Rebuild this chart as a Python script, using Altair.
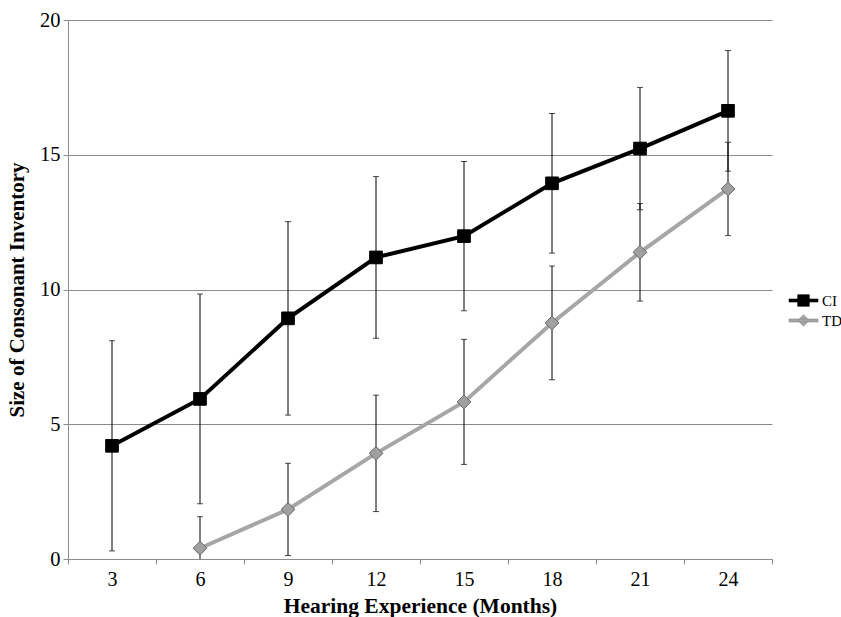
import altair as alt
import pandas as pd

months = [3, 6, 9, 12, 15, 18, 21, 24]
ci_mean = [4.20, 5.94, 8.93, 11.19, 11.98, 13.94, 15.23, 16.63]
ci_sd = [3.90, 3.89, 3.59, 3.00, 2.77, 2.59, 2.27, 2.24]
td_months = [6, 9, 12, 15, 18, 21, 24]
td_mean = [0.40, 1.84, 3.92, 5.83, 8.76, 11.38, 13.73]
td_sd = [1.17, 1.71, 2.16, 2.32, 2.11, 1.81, 1.73]
series = ["CI", "TD"]

rows = []
for m, v, s in zip(months, ci_mean, ci_sd):
    rows.append({"month": m, "series": "CI", "mean": v, "lo": v - s, "hi": v + s})
for m, v, s in zip(td_months, td_mean, td_sd):
    rows.append({"month": m, "series": "TD", "mean": v, "lo": v - s, "hi": v + s})
df = pd.DataFrame(rows)

FONT = "Liberation Serif"

x_enc = alt.X(
    "month:O",
    scale=alt.Scale(type="band", domain=months, paddingInner=0, paddingOuter=0),
    axis=alt.Axis(
        title="Hearing Experience (Months)",
        labelAngle=0,
        tickBand="extent",
        grid=False,
        domainColor="#8c8c8c",
        tickColor="#8c8c8c",
        tickSize=5,
        labelFontSize=20,
        labelFont=FONT,
        labelColor="black",
        labelPadding=5,
        titleFont=FONT,
        titleFontSize=21.5,
        titleFontWeight="bold",
        titleColor="black",
        titlePadding=6,
    ),
)
y_scale = alt.Scale(domain=[0, 20], nice=False)
y_axis = alt.Axis(
    title="Size of Consonant Inventory",
    values=[0, 5, 10, 15, 20],
    grid=True,
    gridColor="#8c8c8c",
    gridWidth=1,
    domainColor="#8c8c8c",
    tickColor="#8c8c8c",
    tickSize=5,
    labelFontSize=20.5,
    labelFont=FONT,
    labelColor="black",
    labelPadding=3,
    titleFont=FONT,
    titleFontSize=21,
    titleFontWeight="bold",
    titleColor="black",
    titlePadding=12,
)

base = alt.Chart(df)

lines = base.mark_line(strokeWidth=4).encode(
    x=x_enc,
    y=alt.Y("mean:Q", scale=y_scale, axis=y_axis),
    color=alt.Color("series:N", scale=alt.Scale(domain=series, range=["black", "#a6a6a6"]), legend=None),
    detail="series:N",
)

err = base.mark_rule(color="black", strokeWidth=1, clip=True).encode(
    x="month:O", y="lo:Q", y2="hi:Q"
)
cap_lo = base.mark_tick(color="black", thickness=1, size=6, orient="horizontal", clip=True).encode(
    x="month:O", y="lo:Q"
)
cap_hi = base.mark_tick(color="black", thickness=1, size=6, orient="horizontal", clip=True).encode(
    x="month:O", y="hi:Q"
)

points = base.mark_point(filled=True, opacity=1, strokeWidth=1).encode(
    x="month:O",
    y="mean:Q",
    shape=alt.Shape("series:N", scale=alt.Scale(domain=series, range=["square", "diamond"]), legend=None),
    fill=alt.Fill("series:N", scale=alt.Scale(domain=series, range=["black", "#a0a0a0"]), legend=None),
    stroke=alt.Stroke("series:N", scale=alt.Scale(domain=series, range=["black", "#666666"]), legend=None),
    size=alt.Size("series:N", scale=alt.Scale(domain=series, range=[160, 190]), legend=None),
)

ci_path = "M-1.45,-0.15H1.45V0.15H-1.45Z M-0.58,-0.58H0.58V0.58H-0.58Z"
td_path = "M-1.45,-0.15H1.45V0.15H-1.45Z M0,-0.58L0.58,0L0,0.58L-0.58,0Z"

legend_df = pd.DataFrame({"series": series})
legend_layer = alt.Chart(legend_df).mark_point(filled=True, opacity=0).encode(
    shape=alt.Shape(
        "series:N",
        scale=alt.Scale(domain=series, range=[ci_path, td_path]),
        legend=alt.Legend(
            title=None,
            orient="none",
            legendX=725,
            legendY=270,
            symbolSize=400,
            symbolOpacity=1,
            symbolStrokeWidth=0.6,
            labelFont=FONT,
            labelFontSize=15,
            labelColor="black",
            labelOffset=8,
            rowPadding=1,
        ),
    ),
    fill=alt.Fill("series:N", scale=alt.Scale(domain=series, range=["black", "#a6a6a6"])),
    stroke=alt.Stroke("series:N", scale=alt.Scale(domain=series, range=["black", "#8a8a8a"])),
)

chart = (
    alt.layer(lines, err, cap_lo, cap_hi, points, legend_layer)
    .resolve_scale(shape="independent", fill="independent", stroke="independent")
    .properties(
        width=704,
        height=539,
        autosize=alt.AutoSizeParams(type="none"),
        padding={"left": 68, "top": 20, "right": 69, "bottom": 58},
        background="white",
    )
    .configure_view(stroke=None)
)

chart.save("out.html", embed_options={"renderer": "svg", "actions": False})
